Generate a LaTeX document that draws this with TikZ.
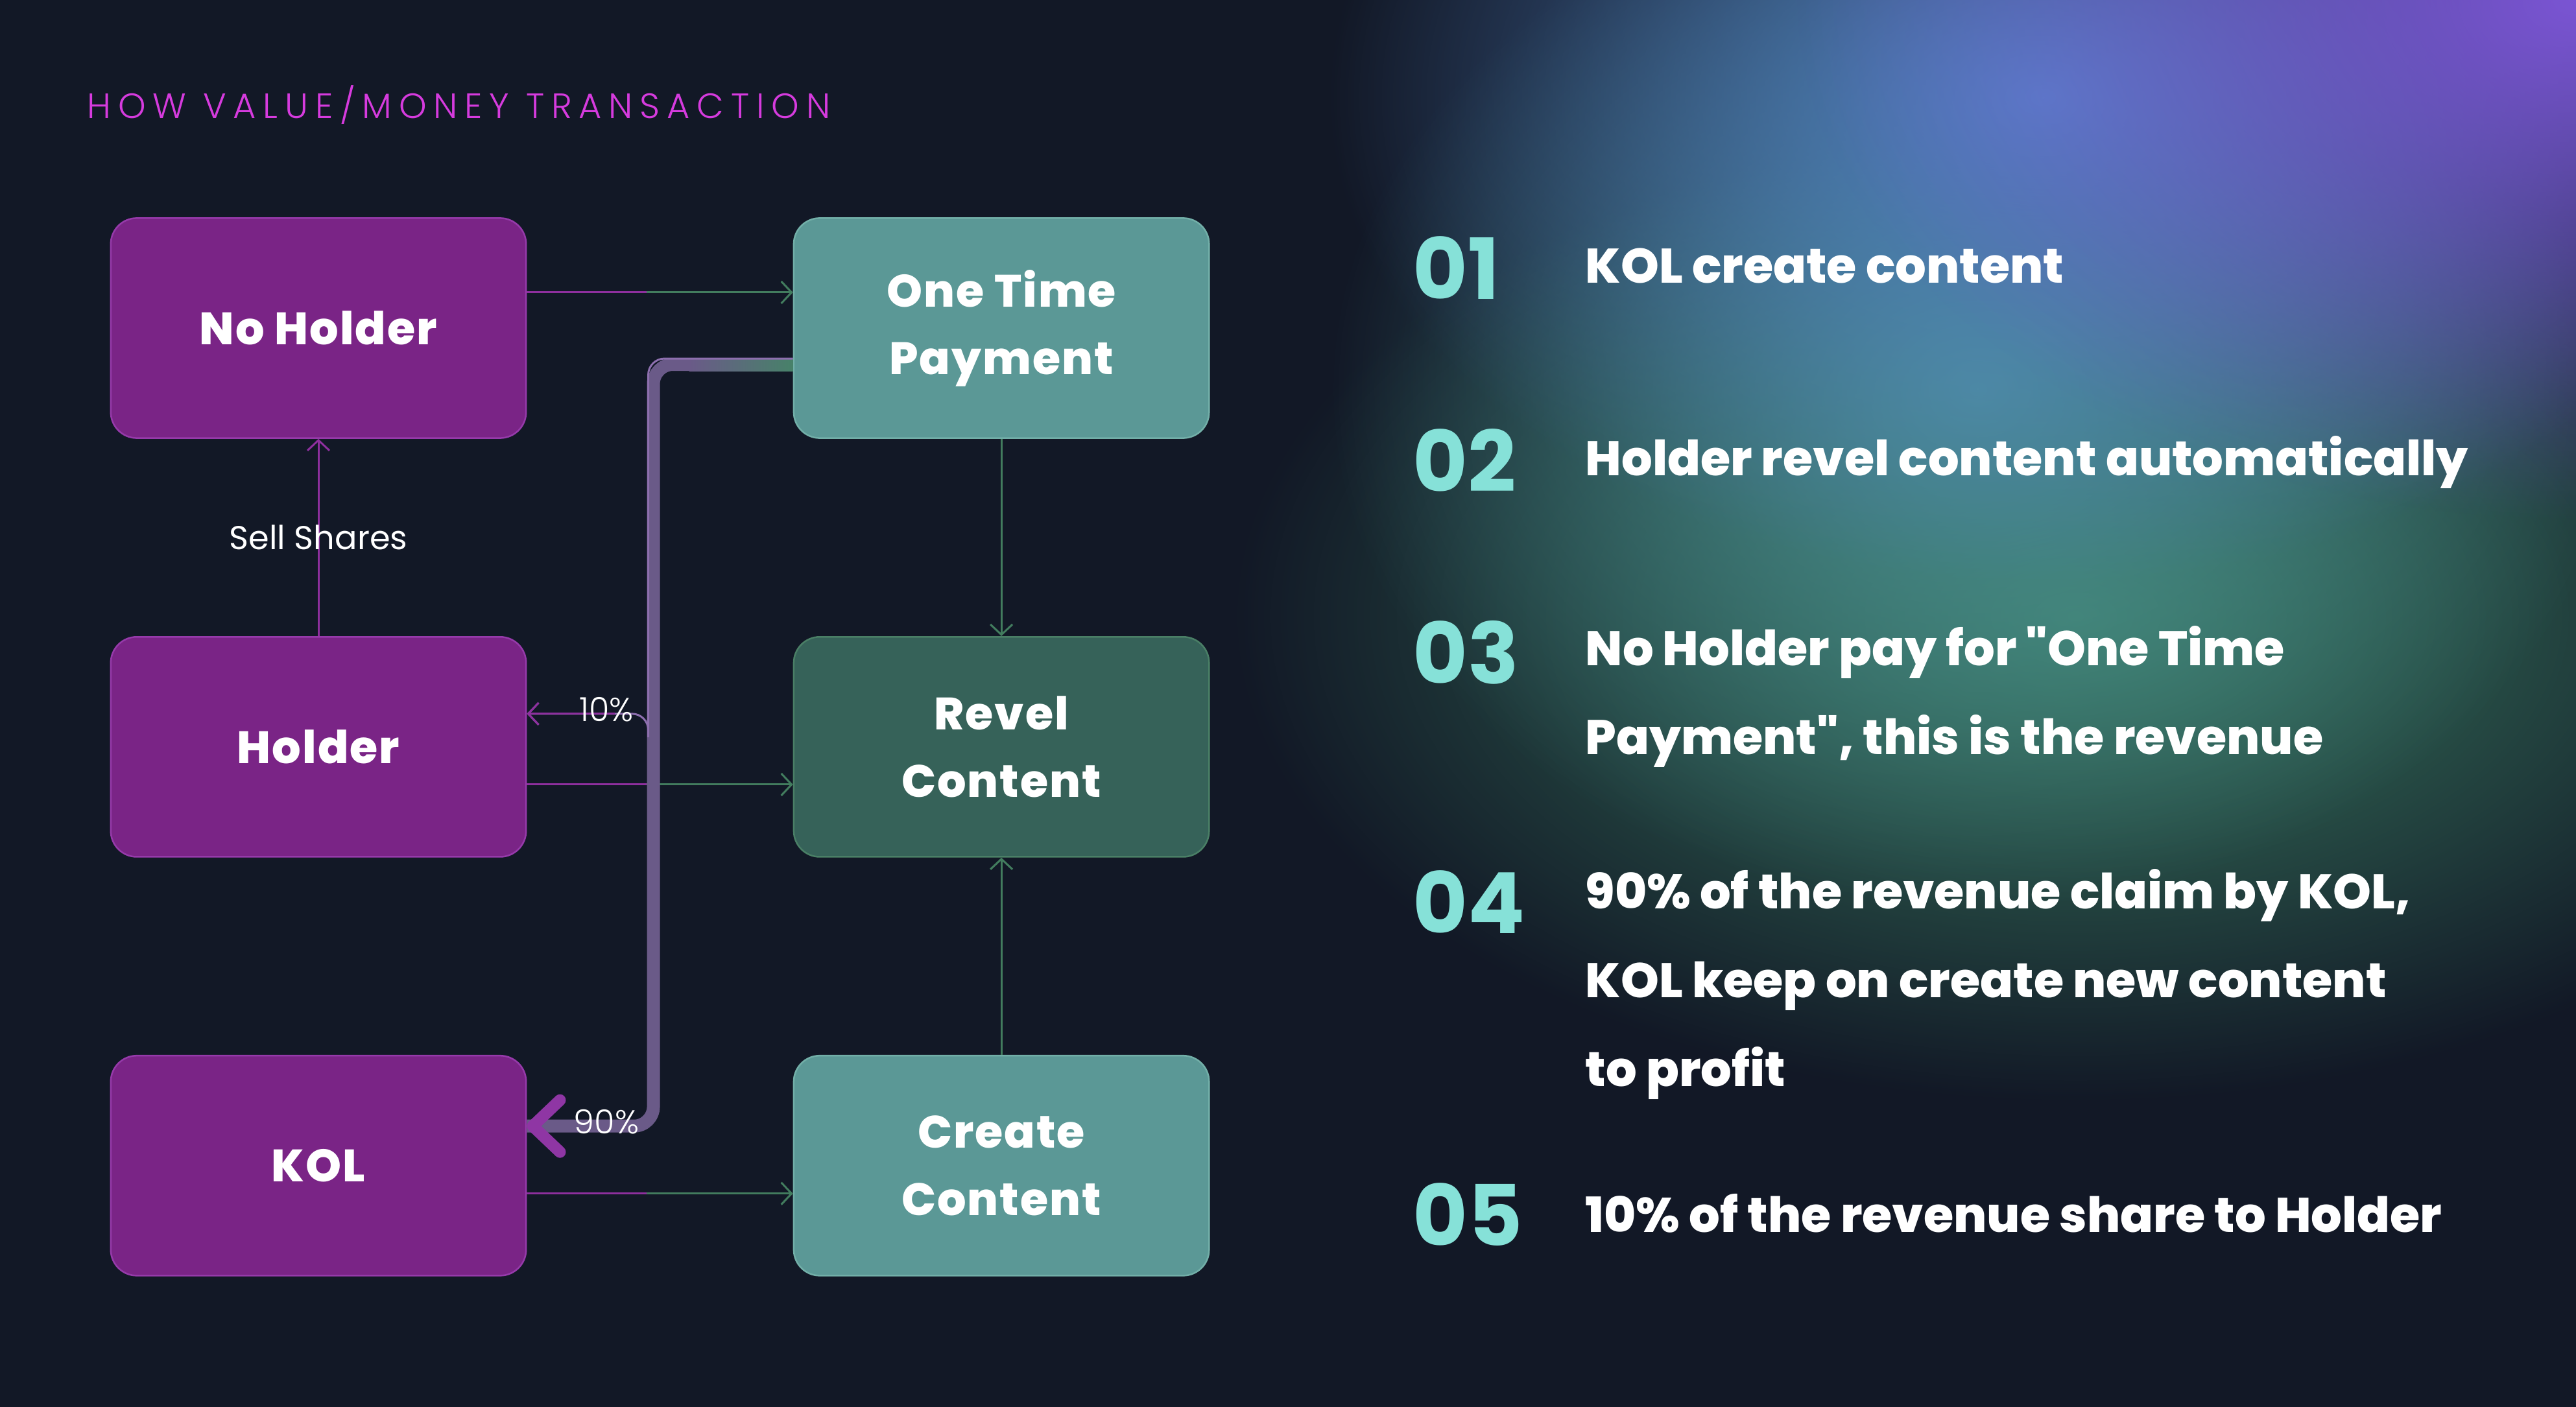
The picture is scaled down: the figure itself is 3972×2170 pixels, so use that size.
\documentclass[tikz,border=0pt]{standalone}
\usepackage{fontspec}
\setmainfont{Poppins}
\newfontfamily\lightfont{Poppins Light}
\newfontfamily\heavyfont{Poppins ExtraBold}
\usepackage{xcolor}
\usepackage{tikz}
\usetikzlibrary{arrows.meta,positioning,fadings,calc}

\definecolor{bgdark}{HTML}{121826}
\definecolor{titlemagenta}{HTML}{D63BDE}
\definecolor{boxpurple}{HTML}{7A2486}
\definecolor{boxpurpleline}{HTML}{963AAA}
\definecolor{boxteal}{HTML}{5B9896}
\definecolor{boxtealline}{HTML}{72AFA8}
\definecolor{boxdark}{HTML}{366259}
\definecolor{boxdarkline}{HTML}{4A7F66}
\definecolor{linepurple}{HTML}{8E2F9E}
\definecolor{linegreen}{HTML}{427C5E}
\definecolor{flowgray}{HTML}{6A5A88}
\definecolor{flowpurple}{HTML}{8F36A4}
\definecolor{flowthin}{HTML}{8D6FAE}
\definecolor{numteal}{HTML}{86E1D8}
\definecolor{glowpurple}{HTML}{7B55D4}
\definecolor{glowblue}{HTML}{5283C4}
\definecolor{glowteal}{HTML}{4A8D92}
\definecolor{glowgreen}{HTML}{3A7D62}

\tikzfading[name=glow, inner color=transparent!0, outer color=transparent!100]

\newcommand\boxfont{\fontsize{19.9}{29.5}\selectfont\heavyfont\addfontfeatures{LetterSpace=3}}
\newcommand\stepfont{\fontsize{21.3}{38.9}\selectfont\heavyfont}

\begin{document}
\begin{tikzpicture}[
  x=0.01cm, y=-0.01cm,
  node distance=3.04cm and 4.1cm,
  purplebox/.style={rectangle, draw=boxpurpleline, fill=boxpurple, line width=0.025cm, rounded corners=0.4cm, minimum width=6.4cm, minimum height=3.39cm, align=center, text=white, font=\boxfont},
  tealbox/.style={purplebox, draw=boxtealline, fill=boxteal},
  darkbox/.style={purplebox, draw=boxdarkline, fill=boxdark},
  line/.style={-{Straight Barb[length=0.16cm, width=0.34cm]}, line width=0.03cm},
  plain/.style={line width=0.03cm},
  flow/.style={line width=0.2cm, flowgray, rounded corners=0.3cm},
  flowhead/.style={line width=0.18cm, flowpurple, -{Straight Barb[length=0.42cm, width=0.8cm, round]}},
  edgelabel/.style={text=white, inner sep=0, font=\fontsize{14.5}{17}\selectfont},
  pctlabel/.style={text=white, inner sep=0, font=\lightfont\fontsize{14.5}{17}\selectfont},
  stepnum/.style={anchor=base west, inner sep=0, text=numteal, font=\fontsize{37}{40}\selectfont\bfseries},
  steptext/.style={anchor=base west, inner sep=0, text=white, align=left, font=\stepfont}
]
% background and glow
\fill[bgdark] (0,0) rectangle (3972,2170);
\useasboundingbox (0,0) rectangle (3972,2170);
\begin{scope}
  \clip (0,0) rectangle (3972,2170);
  \fill[glowgreen, path fading=glow] (3200,950) ellipse (1300 and 750);
  \fill[glowteal, path fading=glow] (3050,600) ellipse (1000 and 800);
  \fill[glowblue, path fading=glow] (3150,150) ellipse (1100 and 750);
  \fill[glowpurple, path fading=glow] (3972,0) ellipse (1200 and 800);
\end{scope}

\node[anchor=west, inner sep=0, text=titlemagenta, font=\lightfont\fontsize{15.4}{18}\selectfont\addfontfeatures{LetterSpace=20}] (title) at (134,162) {HOW VALUE/MONEY TRANSACTION};

% boxes
\node[purplebox] (nohold) at (491,506) {No Holder};
\node[tealbox, right=of nohold] (onetime) {One Time\\Payment};
\node[purplebox, below=of nohold] (holder) {Holder};
\node[darkbox, below=of onetime] (revel) {Revel\\Content};
\node[purplebox, below=of holder] (kol) {KOL};
\node[tealbox, below=of revel] (create) {Create\\Content};

% plain connectors
\draw[line, linepurple] (holder.north) -- node[edgelabel] (sell) {Sell Shares} (nohold.south);
\draw[line, linegreen] (onetime.south) -- (revel.north);
\draw[line, linegreen] (create.north) -- (revel.south);

\draw[line, linegreen] ([yshift=0.55cm]nohold.east) -- coordinate[pos=0.45] (m1) ([yshift=0.55cm]onetime.west);
\draw[plain, linepurple] ([yshift=0.55cm]nohold.east) -- (m1);
\draw[line, linegreen] ([yshift=-0.58cm]holder.east) -- coordinate[pos=0.45] (m2) ([yshift=-0.58cm]revel.west);
\draw[plain, linepurple] ([yshift=-0.58cm]holder.east) -- (m2);
\draw[line, linegreen] ([yshift=-0.43cm]kol.east) -- coordinate[pos=0.45] (m3) ([yshift=-0.43cm]create.west);
\draw[plain, linepurple] ([yshift=-0.43cm]kol.east) -- (m3);

% revenue split
\coordinate (otpout) at ([yshift=-0.56cm]onetime.west);
\coordinate (bus) at ([xshift=1.95cm]holder.east);
\coordinate (k90) at ([yshift=0.61cm]kol.east);
\coordinate (h10) at ([yshift=0.51cm]holder.east);
\draw[flow] (otpout) -| (bus) |- (k90);
\shade[left color=flowgray, right color=linegreen!80!boxteal] ([xshift=-1.6cm,yshift=0.1cm]otpout) rectangle ([yshift=-0.1cm]otpout);
\draw[flowhead] ([xshift=-1.9cm]k90 -| bus) -- (k90);
\draw[line, flowthin, rounded corners=0.25cm] ([yshift=0.09cm]otpout) -| ([xshift=-0.08cm]bus) |- (h10);
\draw[line, linepurple] ([xshift=-0.6cm]h10 -| bus) -- (h10);
\node[pctlabel] (pct10) at (935,1094) {10\%};
\node[pctlabel] (pct90) at (935,1730) {90\%};

% steps
\node[stepnum] (n1) at (2178,462) {01};
\node[steptext] (t1) at (2444,437) {KOL create content};
\node[stepnum] (n2) at (2178,758) {02};
\node[steptext] (t2) at (2444,733) {Holder revel content automatically};
\node[stepnum] (n3) at (2178,1054) {03};
\node[steptext] (t3) at (2444,1163) {No Holder pay for {\char34}One Time\\Payment{\char34}, this is the revenue};
\node[stepnum] (n4) at (2178,1439) {04};
\node[steptext] (t4) at (2444,1675) {90\% of the revenue claim by KOL,\\KOL keep on create new content\\to profit};
\node[stepnum] (n5) at (2178,1921) {05};
\node[steptext] (t5) at (2444,1900) {10\% of the revenue share to Holder};
\end{tikzpicture}
\end{document}
